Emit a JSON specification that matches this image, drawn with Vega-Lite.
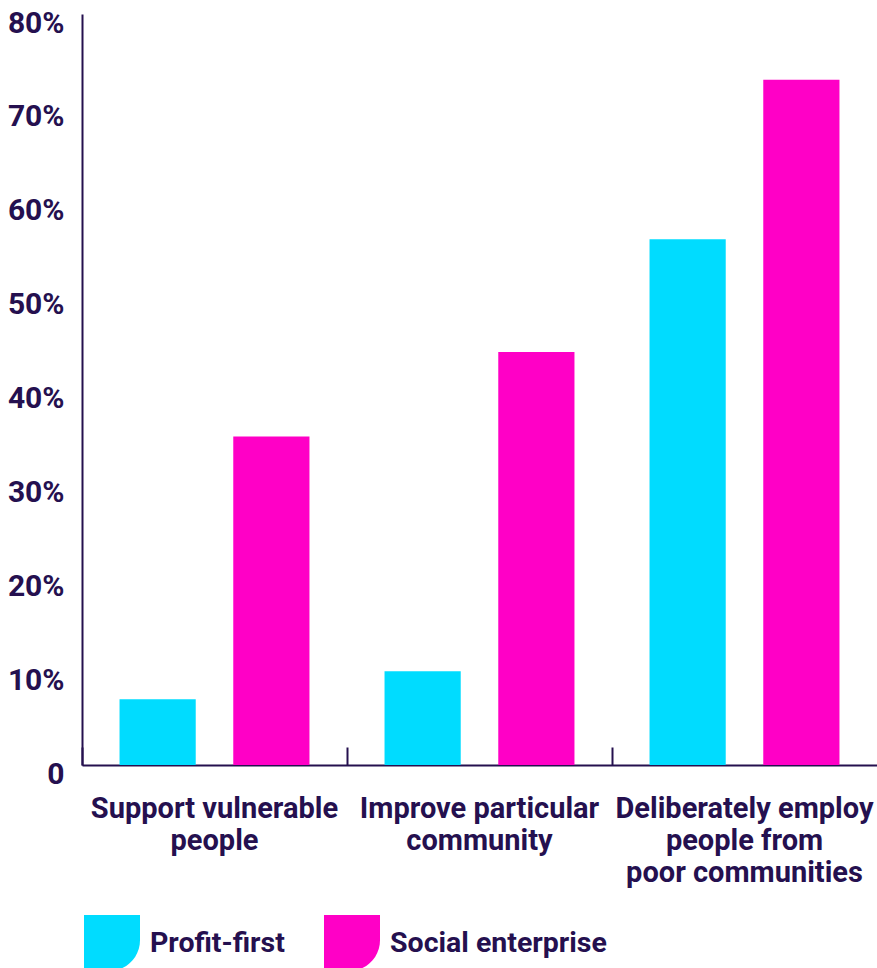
{
  "$schema": "https://vega.github.io/schema/vega-lite/v6.json",
  "autosize": "none",
  "width": 795,
  "height": 751,
  "padding": {"left": 82, "top": 14, "right": 0, "bottom": 203},
  "background": "white",
  "config": {
    "view": {"stroke": null},
    "font": "Roboto",
    "axis": {"grid": false}
  },
  "data": {
    "values": [
      {"category": "Support vulnerable people", "type": "Profit-first", "value": 7},
      {"category": "Support vulnerable people", "type": "Social enterprise", "value": 35},
      {"category": "Improve particular community", "type": "Profit-first", "value": 10},
      {"category": "Improve particular community", "type": "Social enterprise", "value": 44},
      {"category": "Deliberately employ people from poor communities", "type": "Profit-first", "value": 56},
      {"category": "Deliberately employ people from poor communities", "type": "Social enterprise", "value": 73}
    ]
  },
  "mark": {"type": "bar"},
  "encoding": {
    "x": {
      "field": "category",
      "type": "nominal",
      "sort": null,
      "scale": {"paddingInner": 0, "paddingOuter": 0},
      "axis": {
        "title": null,
        "labelAngle": 0,
        "bandPosition": 0,
        "domainColor": "#25104f",
        "domainWidth": 2,
        "tickColor": "#25104f",
        "tickWidth": 2,
        "tickSize": -18,
        "labelPadding": 61,
        "labelFont": "Roboto",
        "labelFontSize": 29,
        "labelFontWeight": "bold",
        "labelColor": "#25104f",
        "labelLineHeight": 32,
        "labelBaseline": "middle",
        "labelLimit": 400,
        "labelExpr": "datum.value == 'Support vulnerable people' ? ['Support vulnerable', 'people'] : datum.value == 'Improve particular community' ? ['Improve particular', 'community'] : ['Deliberately employ', 'people from', 'poor communities']"
      }
    },
    "xOffset": {
      "field": "type",
      "type": "nominal",
      "scale": {"paddingInner": 0.33, "paddingOuter": 0.33}
    },
    "y": {
      "field": "value",
      "type": "quantitative",
      "scale": {"domain": [0, 80], "nice": false},
      "axis": {
        "title": null,
        "values": [0, 10, 20, 30, 40, 50, 60, 70, 80],
        "ticks": false,
        "domainColor": "#25104f",
        "domainWidth": 2,
        "labelPadding": 18,
        "labelOffset": 9,
        "labelFont": "Roboto",
        "labelFontSize": 30,
        "labelFontWeight": "bold",
        "labelColor": "#25104f",
        "labelExpr": "datum.value == 0 ? '0' : datum.value + '%'"
      }
    },
    "color": {
      "field": "type",
      "type": "nominal",
      "scale": {"domain": ["Profit-first", "Social enterprise"], "range": ["#00dcff", "#ff00c6"]},
      "legend": {
        "title": null,
        "orient": "none",
        "direction": "horizontal",
        "legendX": 2,
        "legendY": 901,
        "symbolType": "M-1,-1H1V-0.1A1.1,1.1 0 0 1 -0.1,1H-1Z",
        "symbolSize": 3136,
        "symbolStrokeWidth": 0,
        "symbolOpacity": 1,
        "labelFont": "Roboto",
        "labelFontSize": 28.5,
        "labelFontWeight": "bold",
        "labelColor": "#25104f",
        "labelOffset": 10,
        "columnPadding": 39,
        "labelLimit": 400
      }
    }
  }
}
